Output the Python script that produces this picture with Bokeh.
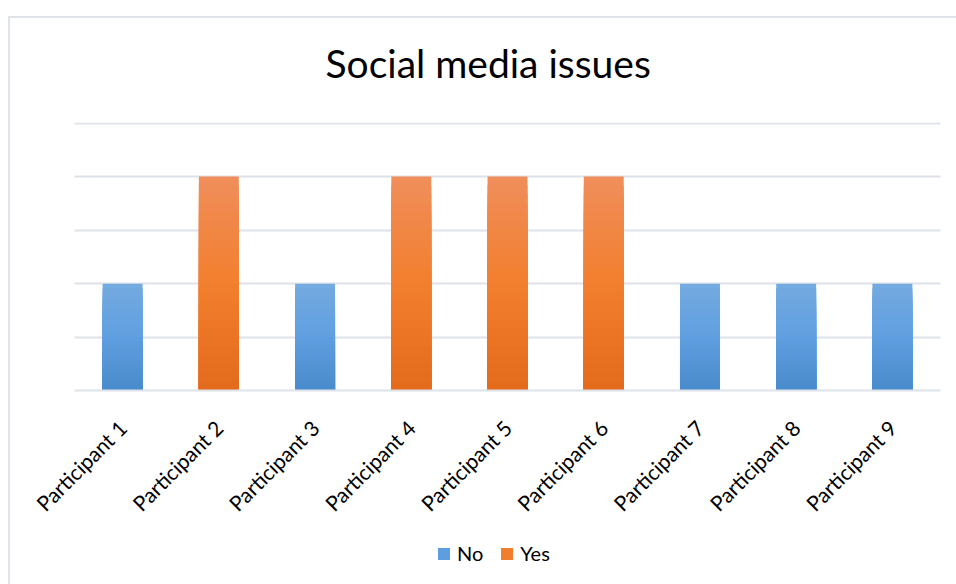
from bokeh.plotting import figure
from bokeh.models import (Range1d, SingleIntervalTicker, FixedTicker, Legend,
                          LegendItem, ColumnDataSource)
from bokeh.embed import file_html
from bokeh.resources import INLINE
import math

participants = ["Participant 1", "Participant 2", "Participant 3", "Participant 4",
                "Participant 5", "Participant 6", "Participant 7", "Participant 8",
                "Participant 9"]
no_values = [1, 0, 1, 0, 0, 0, 1, 1, 1]
yes_values = [0, 2, 0, 2, 2, 2, 0, 0, 0]
series_names = ["No", "Yes"]
title_text = "Social media issues"

# gradient stops (top -> bottom) per series
no_stops = ["#73aadf", "#5f9ee0", "#4a8bcb"]
yes_stops = ["#f08d59", "#f27f2e", "#e46b1c"]

FONT = "Lato"
GRID = "#dde1e8"
N_STEPS = 24
Y_TOP = 2.505
Y_BOTTOM = -1.8066   # room below the baseline for labels and legend
X_LEFT = -1.269      # room left of first category for its rotated label
X_RIGHT = 8.666

positions = list(range(len(participants)))


def hex2rgb(h):
    h = h.lstrip("#")
    return [int(h[i:i + 2], 16) for i in (0, 2, 4)]


def interp(stops, t):
    seg = t * (len(stops) - 1)
    i = min(int(seg), len(stops) - 2)
    f = seg - i
    a, b = hex2rgb(stops[i]), hex2rgb(stops[i + 1])
    return "#%02x%02x%02x" % tuple(round(a[j] + (b[j] - a[j]) * f) for j in range(3))


def gradient_source(xs_in, vals, stops):
    xs, tops, cols = [], [], []
    for k in range(N_STEPS):
        frac = 1 - k / N_STEPS
        col = interp(stops, k / (N_STEPS - 1))
        for x, v in zip(xs_in, vals):
            if v > 0:
                xs.append(x)
                tops.append(v * frac)
                cols.append(col)
    return ColumnDataSource(dict(x=xs, top=tops, color=cols))


p = figure(x_range=Range1d(X_LEFT, X_RIGHT), y_range=Range1d(Y_BOTTOM, Y_TOP),
           width=956, height=584, output_backend="svg", toolbar_location=None,
           min_border_left=0, min_border_right=0, min_border_top=121,
           min_border_bottom=0)
p.outline_line_color = None
p.background_fill_color = None
p.border_fill_color = None
p.styles = {
    "background": ("linear-gradient(#dfe3ea, #dfe3ea) 8px 16px / 2px 100% no-repeat, "
                   "linear-gradient(#dfe3ea, #dfe3ea) 8px 16px / 100% 2px no-repeat, white")
}

src_no = gradient_source(positions, no_values, no_stops)
src_yes = gradient_source(positions, yes_values, yes_stops)
r_no = p.vbar(x="x", top="top", bottom=0, width=0.415, source=src_no,
              fill_color="color", line_color=None)
r_yes = p.vbar(x="x", top="top", bottom=0, width=0.415, source=src_yes,
               fill_color="color", line_color=None)

p.title.text = title_text
p.title.align = "left"
p.title.offset = 325
p.title.text_font = FONT
p.title.text_font_size = "39px"
p.title.text_font_style = "normal"
p.title.text_color = "#000000"
p.title.standoff = 74

half = 0.5
p.yaxis.visible = False
p.ygrid.ticker = SingleIntervalTicker(interval=0.5)
p.ygrid.bounds = (0.25, 2.5)
p.ygrid.cross_bounds = (positions[0] - half, positions[-1] + half)
p.ygrid.grid_line_color = GRID
p.ygrid.grid_line_width = 2
p.xgrid.grid_line_color = None

xa = p.xaxis[0]
xa.fixed_location = 0
xa.bounds = (positions[0] - half, positions[-1] + half)
xa.ticker = FixedTicker(ticks=positions)
xa.major_label_overrides = {pos: name for pos, name in zip(positions, participants)}
xa.axis_line_color = GRID
xa.axis_line_width = 2
xa.major_tick_line_color = None
xa.minor_tick_line_color = None
xa.major_label_orientation = math.pi / 4
xa.major_label_text_font = FONT
xa.major_label_text_font_size = "21px"
xa.major_label_text_color = "#000000"
xa.major_label_standoff = 27

mid = N_STEPS // 2
legend = Legend(items=[LegendItem(label=series_names[0], renderers=[r_no], index=mid * 5),
                       LegendItem(label=series_names[1], renderers=[r_yes], index=mid * 4)],
                orientation="horizontal", location=(436, 19),
                glyph_width=15, glyph_height=15, label_text_font=FONT,
                label_text_font_size="20px", label_text_color="#000000",
                label_standoff=6, spacing=16, label_height=15,
                border_line_color=None, background_fill_alpha=0, margin=0,
                padding=0)
p.add_layout(legend, "center")

open("out.html", "w").write(file_html(p, INLINE))
